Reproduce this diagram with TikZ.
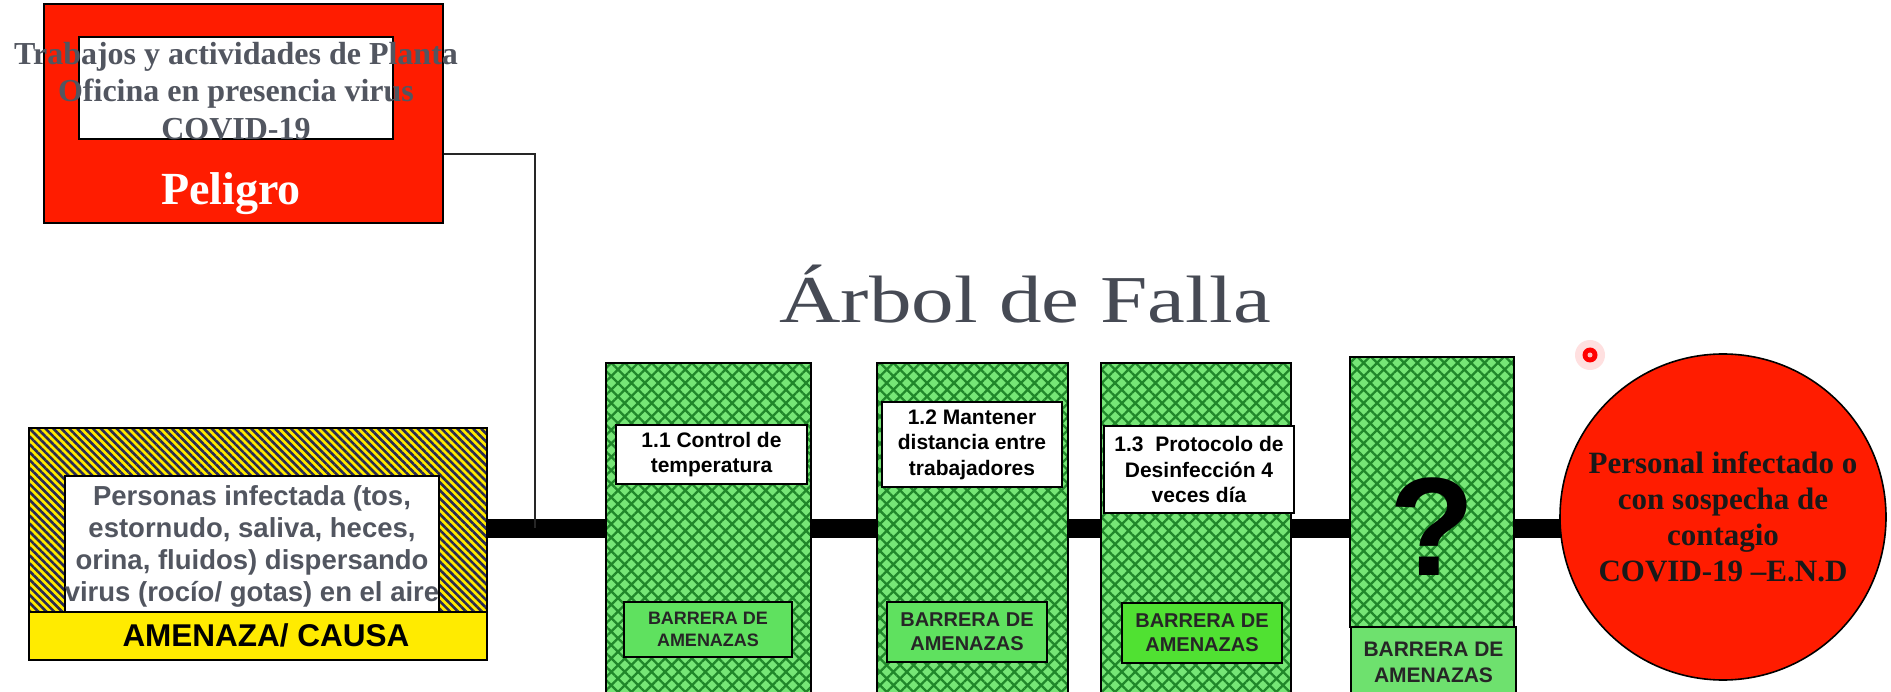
\documentclass[tikz,border=0pt]{standalone}
\usepackage{fontspec}
\setmainfont{Liberation Serif}
\newfontfamily\arial{Liberation Sans}
\usetikzlibrary{patterns.meta,backgrounds}
\definecolor{redP}{RGB}{255,28,0}
\definecolor{greenL}{RGB}{118,230,118}
\definecolor{greenD}{RGB}{32,135,42}
\definecolor{greenLab}{RGB}{95,225,95}
\definecolor{greenLabB}{RGB}{80,225,50}
\definecolor{greenLabC}{RGB}{110,225,110}
\definecolor{yel}{RGB}{255,235,0}
\definecolor{navy}{RGB}{40,40,85}
\definecolor{txtgray}{RGB}{82,86,96}
\definecolor{titlegray}{RGB}{70,74,84}
\tikzset{
  boxline/.style={draw=black, line width=1.6pt, inner sep=0pt},
  hatchbox/.style={boxline, preaction={fill=greenL},
     pattern={Hatch[angle=45,distance=9.5pt,line width=2.3pt]}, pattern color=greenD},
  stripebox/.style={boxline, preaction={fill=yel},
     pattern={Lines[angle=-45,distance=5.6pt,line width=2.6pt]}, pattern color=navy},
  whitelbl/.style={boxline, fill=white, align=center,
     font=\arial\bfseries\fontsize{21}{25.5}\selectfont, text=black},
  greenlbl/.style={boxline, fill=greenLab, align=center,
     font=\arial\bfseries\fontsize{18}{22}\selectfont, text=black!85},
  thickline/.style={line width=19pt, black},
  conn/.style={line width=2pt, black!85}
}
\begin{document}
\begin{tikzpicture}[x=1pt,y=-1pt]
\clip (0,0) rectangle (1891,692);

% Peligro
\node[boxline, fill=redP, minimum width=399pt, minimum height=219pt] (pel) at (243.5,113.5) {};
\node[boxline, fill=white, minimum width=314pt, minimum height=102pt] (pelin) at (236,88) {};
\node[font=\bfseries\fontsize{32}{37.5}\selectfont, text=txtgray, align=center] (peltxt) at (236,91)
  {Trabajos y actividades de Planta\\Oficina en presencia virus\\COVID-19};
\node[font=\bfseries\fontsize{46}{50}\selectfont, text=white, anchor=base] (pellab) at (231,205) {Peligro};

% Amenaza
\node[stripebox, minimum width=458pt, minimum height=232pt] (amen) at (258,544) {};
\node[boxline, fill=white, minimum width=374pt, minimum height=136pt] (amenin) at (252,544) {};
\node[font=\arial\bfseries\fontsize{27.5}{32}\selectfont, text=txtgray, align=center] (amentxt) at (252,546)
  {Personas infectada (tos,\\estornudo, saliva, heces,\\orina, fluidos) dispersando\\virus (rocío/ gotas) en el aire};
\node[boxline, fill=yel, minimum width=458pt, minimum height=48pt] (amenlab) at (258,636) {};
\node[font=\arial\bfseries\fontsize{31.5}{34}\selectfont, text=black] (amenlabtxt) at (266,635) {AMENAZA/ CAUSA};

% Title
\node[font=\fontsize{67}{70}\selectfont, text=titlegray, anchor=base] (title) at (1025,323)
  {\scalebox{1.27}[1]{Árbol de Falla}};

% Barrier 1
\node[hatchbox, minimum width=205pt, minimum height=340pt] (b1) at (708.5,533) {};
\node[whitelbl, minimum width=191pt, minimum height=59pt] (b1t) at (711.5,454.5) {1.1 Control de\\temperatura};
\node[greenlbl, minimum width=168pt, minimum height=55pt] (b1l) at (708,629.5) {BARRERA DE\\AMENAZAS};

% Barrier 2
\node[hatchbox, minimum width=191pt, minimum height=340pt] (b2) at (972.5,533) {};
\node[whitelbl, minimum width=180pt, minimum height=85pt] (b2t) at (972,444.5) {1.2 Mantener\\distancia entre\\trabajadores};
\node[greenlbl, minimum width=160pt, minimum height=60pt, font=\arial\bfseries\fontsize{20}{24}\selectfont] (b2l) at (967,632) {BARRERA DE\\AMENAZAS};

% Barrier 3
\node[hatchbox, minimum width=190pt, minimum height=340pt] (b3) at (1196,533) {};
\node[whitelbl, minimum width=190pt, minimum height=87pt] (b3t) at (1199,469.5) {1.3\ \ Protocolo de\\Desinfección 4\\veces día};
\node[greenlbl, fill=greenLabB, minimum width=160pt, minimum height=60pt, font=\arial\bfseries\fontsize{20}{24}\selectfont] (b3l) at (1202,633) {BARRERA DE\\AMENAZAS};

% Barrier 4
\node[hatchbox, minimum width=164pt, minimum height=270pt] (b4) at (1432,492) {};
\node[greenlbl, fill=greenLabC, minimum width=165pt, minimum height=70pt, font=\arial\bfseries\fontsize{21}{26}\selectfont] (b4l) at (1433.5,662) {BARRERA DE\\AMENAZAS};
\node[font=\arial\bfseries\fontsize{140}{140}\selectfont, anchor=base, inner sep=0pt] (q) at (1432,575) {?};

% Consequence circle
\node[circle, draw=black, line width=1.6pt, fill=redP, minimum size=326pt, inner sep=0pt,
      align=center, font=\bfseries\fontsize{31}{36}\selectfont, text=black!90] (circ) at (1723,517)
  {Personal infectado o\\con sospecha de\\contagio\\COVID-19 –E.N.D};

% red dot
\node[circle, fill=red!12, minimum size=30pt, inner sep=0pt] (glow) at (1590,355) {};
\node[circle, fill=red, minimum size=15pt, inner sep=0pt] (dot) at (1590,355) {};
\node[circle, fill=red!25, minimum size=5pt, inner sep=0pt] (dotc) at (1590,355) {};

\coordinate (ly) at (0,528);
\coordinate (pj) at (535,528);

\begin{scope}[on background layer]
  \fill[white] (0,0) rectangle (1891,692);
  \draw[thickline] (amen.east |- ly) -- (circ.center |- ly);
  \draw[conn] ([yshift=-40.5pt]pel.east) -| (pj);
\end{scope}
\end{tikzpicture}
\end{document}
